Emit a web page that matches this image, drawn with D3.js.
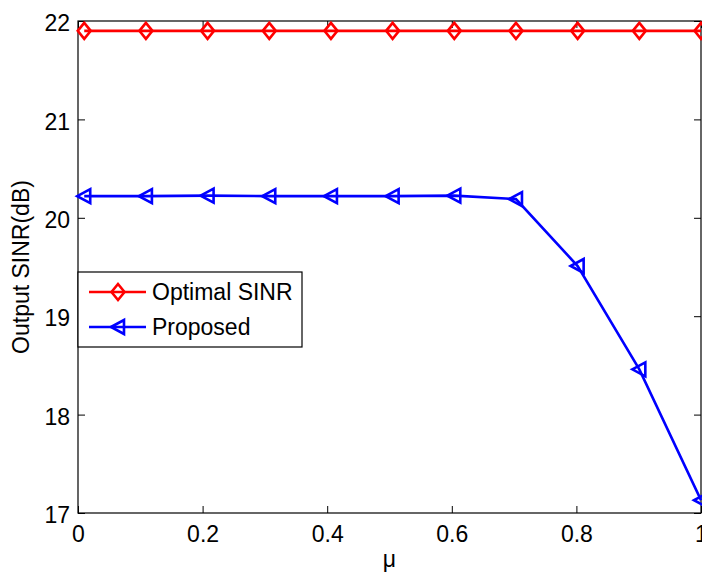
<!DOCTYPE html>
<html>
<head>
<script src="https://cdn.jsdelivr.net/npm/d3@7"></script>
<style>
  body { margin: 0; background: #fff; }
  text { font-family: "Liberation Sans", Arial, Helvetica, sans-serif; fill: #000; }
</style>
</head>
<body>
<div id="container"></div>
<script>
// data
var mu = [0.01, 0.109, 0.208, 0.307, 0.406, 0.505, 0.604, 0.703, 0.802, 0.901, 1.0];
var optimal = [21.9, 21.9, 21.9, 21.9, 21.9, 21.9, 21.9, 21.9, 21.9, 21.9, 21.9];
var proposed = [20.22, 20.22, 20.225, 20.22, 20.22, 20.22, 20.225, 20.19, 19.51, 18.46, 17.13];
var xTicks = [0, 0.2, 0.4, 0.6, 0.8, 1];
var yTicks = [17, 18, 19, 20, 21, 22];
var seriesNames = ["Optimal SINR", "Proposed"];

var width = 702, height = 572;
var axL = 78, axR = 701, axT = 21, axB = 513;

var svg = d3.select("#container").append("svg")
  .attr("width", width)
  .attr("height", height);

var x = d3.scaleLinear().domain([0, 1]).range([axL, axR]);
var y = d3.scaleLinear().domain([17, 22]).range([axB, axT]);

var tickLen = 7;
var fs = 23;
var lw = 2.6;

// box
svg.append("rect")
  .attr("x", axL).attr("y", axT)
  .attr("width", axR - axL).attr("height", axB - axT)
  .attr("fill", "none").attr("stroke", "#000").attr("stroke-width", 1.2);

// x axis (ticks inside, on bottom and top)
var xAxis = svg.append("g")
  .attr("transform", "translate(0," + axB + ")")
  .call(d3.axisBottom(x).tickValues(xTicks).tickSize(-tickLen).tickPadding(13)
    .tickFormat(function (d) { return d === 0 || d === 1 ? d3.format("d")(d) : d3.format(".1f")(d); }));
xAxis.select(".domain").remove();
xAxis.selectAll("line").attr("stroke", "#000");
xAxis.selectAll("text").style("font-size", fs + "px").attr("fill", "#000");

svg.append("g").attr("transform", "translate(0," + axT + ")")
  .call(d3.axisTop(x).tickValues(xTicks).tickSize(-tickLen).tickFormat(""))
  .call(function (g) { g.select(".domain").remove(); g.selectAll("line").attr("stroke", "#000"); });

// y axis (ticks inside, on left and right)
var yAxis = svg.append("g")
  .attr("transform", "translate(" + axL + ",0)")
  .call(d3.axisLeft(y).tickValues(yTicks).tickSize(-tickLen).tickPadding(8).tickFormat(d3.format("d")));
yAxis.select(".domain").remove();
yAxis.selectAll("line").attr("stroke", "#000");
yAxis.selectAll("text").style("font-size", fs + "px").attr("fill", "#000").attr("dy", "0.42em");

svg.append("g").attr("transform", "translate(" + axR + ",0)")
  .call(d3.axisRight(y).tickValues(yTicks).tickSize(-tickLen).tickFormat(""))
  .call(function (g) { g.select(".domain").remove(); g.selectAll("line").attr("stroke", "#000"); });

// labels
svg.append("text")
  .attr("x", (axL + axR) / 2).attr("y", 567)
  .attr("text-anchor", "middle")
  .style("font-size", fs + "px")
  .text("\u03bc");

svg.append("text")
  .attr("transform", "translate(29," + ((axT + axB) / 2) + ") rotate(-90)")
  .attr("text-anchor", "middle")
  .style("font-size", fs + "px")
  .text("Output SINR(dB)");

// markers
var diamond = "M0,-8L6.5,0L0,8L-6.5,0Z";
var triLeft = "M-7,0L6,-7L6,7Z";

var line = d3.line()
  .x(function (d) { return x(d[0]); })
  .y(function (d) { return y(d[1]); });

var series = [
  { name: seriesNames[0], values: optimal, color: "#ff0000", marker: diamond },
  { name: seriesNames[1], values: proposed, color: "#0000ff", marker: triLeft }
];

series.forEach(function (s) {
  var pts = mu.map(function (m, i) { return [m, s.values[i]]; });
  svg.append("path")
    .datum(pts)
    .attr("d", line)
    .attr("fill", "none")
    .attr("stroke", s.color)
    .attr("stroke-width", lw);
  svg.selectAll(null)
    .data(pts)
    .enter()
    .append("path")
    .attr("d", s.marker)
    .attr("transform", function (d) { return "translate(" + x(d[0]) + "," + y(d[1]) + ")"; })
    .attr("fill", "none")
    .attr("stroke", s.color)
    .attr("stroke-width", lw);
});

// legend
var lg = svg.append("g");
lg.append("rect")
  .attr("x", axL).attr("y", 272)
  .attr("width", 224).attr("height", 75)
  .attr("fill", "#fff").attr("stroke", "#000").attr("stroke-width", 1.2);

series.forEach(function (s, i) {
  var cy = 292 + i * 35;
  lg.append("line")
    .attr("x1", 89).attr("x2", 146)
    .attr("y1", cy).attr("y2", cy)
    .attr("stroke", s.color).attr("stroke-width", lw);
  lg.append("path")
    .attr("d", s.marker)
    .attr("transform", "translate(118," + cy + ")")
    .attr("fill", "none")
    .attr("stroke", s.color)
    .attr("stroke-width", lw);
  lg.append("text")
    .attr("x", 152).attr("y", cy)
    .attr("dy", "0.36em")
    .style("font-size", fs + "px")
    .text(s.name);
});
</script>
</body>
</html>
